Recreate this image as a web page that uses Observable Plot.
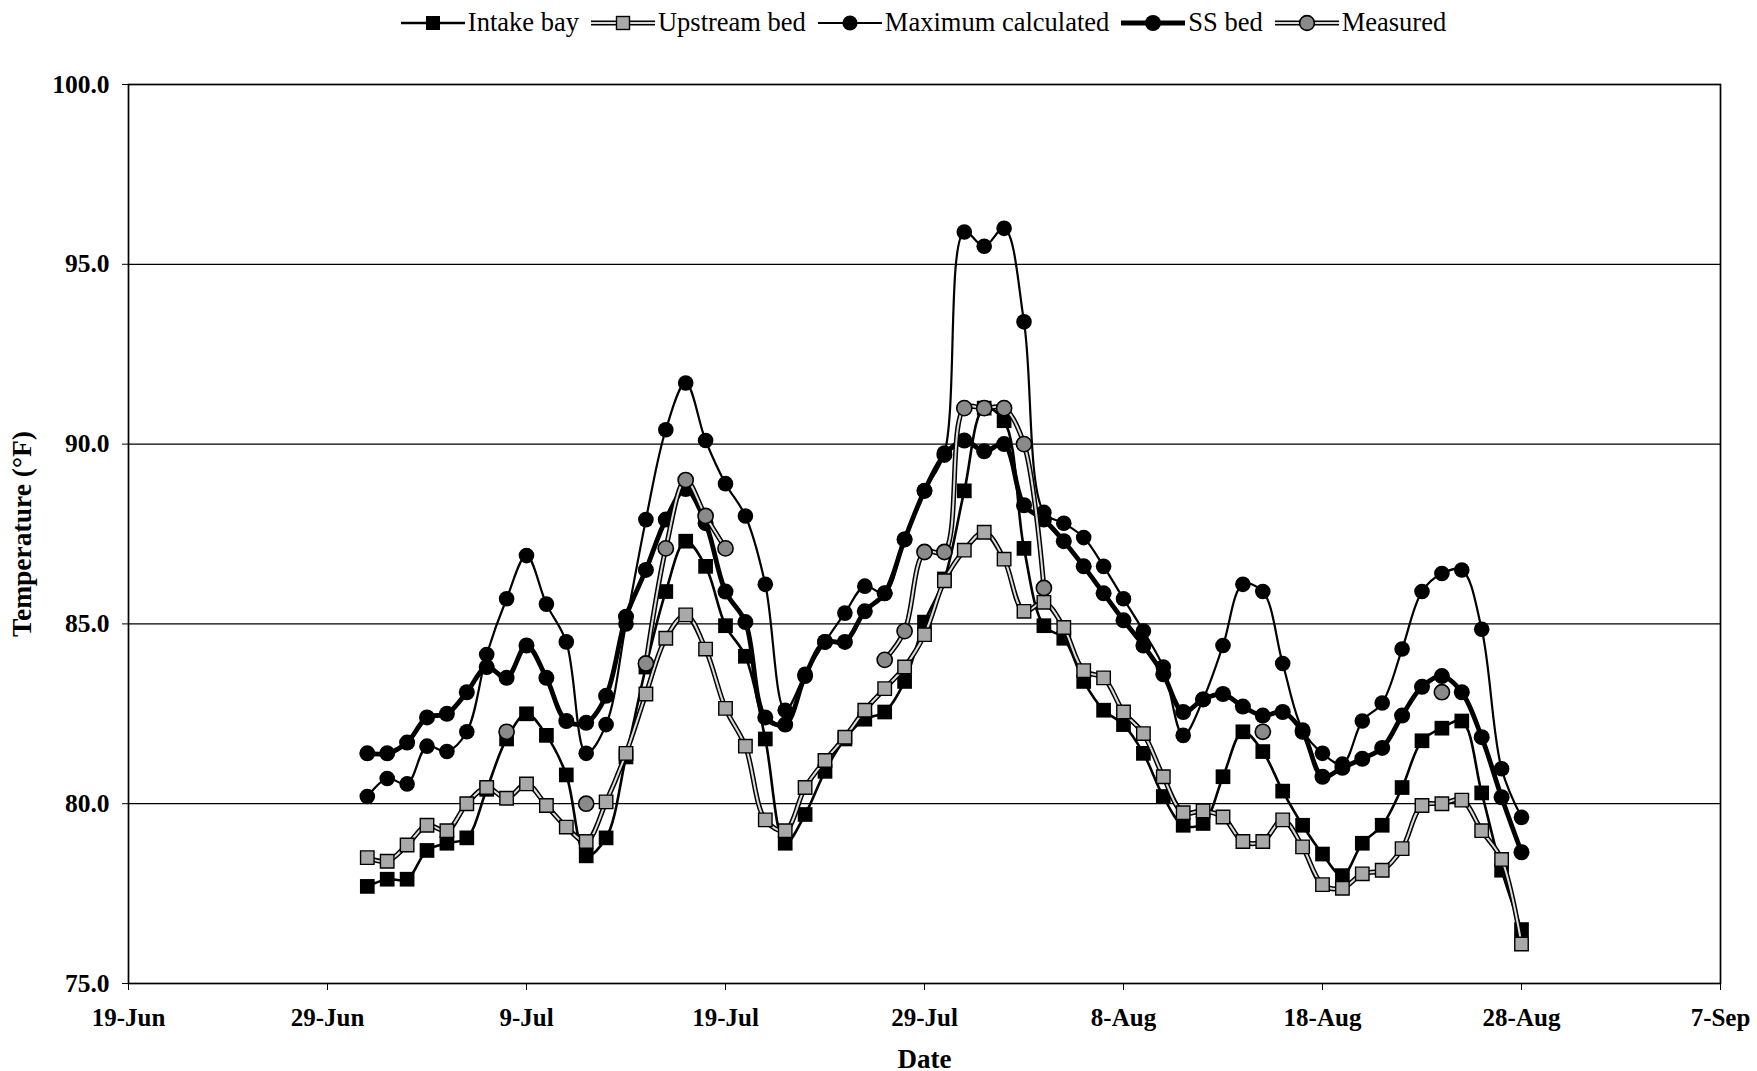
<!DOCTYPE html>
<html><head><meta charset="utf-8">
<script src="https://cdn.jsdelivr.net/npm/d3@7"></script>
<script src="https://cdn.jsdelivr.net/npm/@observablehq/plot@0.6"></script>
<style>
body{margin:0;background:#fff;font-family:"Liberation Serif","Times New Roman",serif;color:#000;}
#legend{height:45px;width:1757px;display:flex;align-items:center;justify-content:center;padding-left:90px;box-sizing:border-box;font-size:26.5px;}
.item{display:flex;align-items:center;margin:0 6px;white-space:nowrap;}
.item svg{margin-right:3px;}
</style></head><body>
<div id="legend"></div>
<div id="chart"></div>
<script>
// x categories: one reading per day, 1-Jul to 28-Aug
const firstDay = "2000-07-01", lastDayExclusive = "2000-08-29";
const xTickLabels = ["2000-06-19","2000-06-29","2000-07-09","2000-07-19","2000-07-29","2000-08-08","2000-08-18","2000-08-28","2000-09-07"];
const yTicks = [75, 80, 85, 90, 95, 100];
const gridValues = [80, 85, 90, 95];
const seriesNames = ["Intake bay", "Upstream bed", "Maximum calculated", "SS bed", "Measured"];
const yTitle = "Temperature (°F)", xTitle = "Date";

const intakeBay = [77.7, 77.9, 77.9, 78.7, 78.9, 79.05, 80.4, 81.8, 82.5, 81.9,
  80.8, 78.55, 79.05, 81.3, 83.8, 85.9, 87.3, 86.6, 84.95, 84.1,
  81.8, 78.9, 79.7, 80.9, 81.8, 82.35, 82.55, 83.4, 85.05, 86.25,
  88.7, 91.0, 90.65, 87.1, 84.95, 84.6, 83.4, 82.6, 82.2, 81.4,
  80.2, 79.4, 79.45, 80.75, 82.0, 81.45, 80.35, 79.4, 78.6, 78.0,
  78.9, 79.4, 80.45, 81.75, 82.1, 82.3, 80.3, 78.15, 76.5];
const upstreamBed = [78.5, 78.4, 78.85, 79.4, 79.25, 80.0, 80.45, 80.15, 80.55, 79.95,
  79.35, 78.95, 80.05, 81.4, 83.05, 84.6, 85.25, 84.3, 82.65, 81.6,
  79.55, 79.25, 80.45, 81.2, 81.85, 82.6, 83.2, 83.8, 84.7, 86.2,
  87.05, 87.55, 86.8, 85.35, 85.6, 84.9, 83.7, 83.5, 82.55, 81.95,
  80.75, 79.75, 79.8, 79.63, 78.95, 78.95, 79.55, 78.8, 77.75, 77.65,
  78.05, 78.15, 78.75, 79.95, 80.0, 80.1, 79.25, 78.45, 76.1];
const maxCalculated = [80.2, 80.7, 80.55, 81.6, 81.45, 82.0, 84.15, 85.7, 86.9, 85.55,
  84.5, 81.4, 82.2, 85.0, 87.9, 90.4, 91.7, 90.1, 88.9, 88.0,
  86.1, 82.6, 83.6, 84.5, 85.3, 86.05, 85.85, 87.35, 88.7, 89.75,
  95.9, 95.5, 96.0, 93.4, 88.1, 87.8, 87.4, 86.6, 85.7, 84.8,
  83.8, 81.9, 82.9, 84.4, 86.1, 85.9, 83.9, 82.05, 81.4, 81.1,
  82.3, 82.8, 84.3, 85.9, 86.4, 86.5, 84.85, 80.97, 79.62];
const ssBed = [81.4, 81.4, 81.7, 82.4, 82.5, 83.1, 83.8, 83.5, 84.4, 83.5,
  82.3, 82.25, 83.0, 85.2, 86.5, 87.9, 88.75, 87.8, 85.9, 85.05,
  82.4, 82.2, 83.55, 84.5, 84.5, 85.35, 85.85, 87.35, 88.7, 89.7,
  90.1, 89.8, 90.0, 88.3, 87.9, 87.3, 86.6, 85.85, 85.1, 84.4,
  83.6, 82.55, 82.9, 83.05, 82.7, 82.45, 82.55, 82.0, 80.75, 81.0,
  81.25, 81.55, 82.45, 83.25, 83.55, 83.1, 81.85, 80.18, 78.65];
const measured = [null, null, null, null, null, null, null, 82.0, null, null,
  null, 80.0, null, null, 83.9, 87.1, 89.0, 88.0, 87.1, null,
  null, null, null, null, null, null, 84.0, 84.8, 87.0, 87.0,
  91.0, 91.0, 91.0, 90.0, 86.0, null, null, null, null, null,
  null, null, null, null, null, 82.0, null, null, null, null,
  null, null, null, null, 83.1, null, null, null, null];

const dates = d3.utcDays(new Date(firstDay), new Date(lastDayExclusive));
const toRows = arr => arr.map((v, i) => ({date: dates[i], value: v}));
const rIntake = toRows(intakeBay), rUp = toRows(upstreamBed), rMax = toRows(maxCalculated),
      rSS = toRows(ssBed), rMeas = toRows(measured);
const defined = rows => rows.filter(d => d.value != null);

const xy = {x: "date", y: "value"};
const curve = "catmull-rom";
const font = "Liberation Serif, Times New Roman, serif";

const chart = Plot.plot({
  width: 1757, height: 1026,
  marginTop: 39, marginBottom: 88, marginLeft: 128, marginRight: 37,
  style: {fontFamily: font, background: "#fff", color: "#000", overflow: "visible"},
  x: {type: "utc", domain: [new Date(xTickLabels[0]), new Date(xTickLabels[xTickLabels.length - 1])]},
  y: {domain: [75, 100]},
  marks: [
    Plot.ruleY(gridValues, {stroke: "#000", strokeWidth: 1.3}),
    Plot.frame({stroke: "#000", strokeWidth: 1.7}),
    Plot.axisY({ticks: yTicks, tickFormat: d3.format(".1f"), tickSize: 6, tickPadding: 13,
      fontSize: 25.5, fontWeight: "bold", label: null}),
    Plot.axisX({ticks: xTickLabels.map(d => new Date(d)), tickFormat: d3.utcFormat("%-d-%b"),
      tickSize: 7, tickPadding: 18, fontSize: 25, fontWeight: "bold", label: null}),
    Plot.text([yTitle], {frameAnchor: "left", text: d => d, rotate: -90, dx: -106,
      textAnchor: "middle", lineAnchor: "middle", fontSize: 27.5, fontWeight: "bold", fill: "#000"}),
    Plot.text([xTitle], {frameAnchor: "bottom", text: d => d, dy: 76,
      textAnchor: "middle", lineAnchor: "middle", fontSize: 27, fontWeight: "bold", fill: "#000"}),
    // Intake bay
    Plot.line(rIntake, {...xy, stroke: "#000", strokeWidth: 2.6, curve}),
    Plot.dot(defined(rIntake), {...xy, symbol: "square", r: 8.3, fill: "#000", stroke: "none"}),
    // Upstream bed (double line)
    Plot.line(rUp, {...xy, stroke: "#000", strokeWidth: 5, curve}),
    Plot.line(rUp, {...xy, stroke: "#dcdcdc", strokeWidth: 2, curve}),
    Plot.dot(defined(rUp), {...xy, symbol: "square", r: 7.6, fill: "#a9a9a9", stroke: "#000", strokeWidth: 1.4}),
    // Maximum calculated
    Plot.line(rMax, {...xy, stroke: "#000", strokeWidth: 2.2, curve}),
    Plot.dot(defined(rMax), {...xy, r: 7.8, fill: "#000", stroke: "none"}),
    // SS bed
    Plot.line(rSS, {...xy, stroke: "#000", strokeWidth: 4.8, curve}),
    Plot.dot(defined(rSS), {...xy, r: 8.0, fill: "#000", stroke: "none"}),
    // Measured (double line)
    Plot.line(rMeas, {...xy, stroke: "#000", strokeWidth: 5, curve}),
    Plot.line(rMeas, {...xy, stroke: "#dcdcdc", strokeWidth: 2, curve}),
    Plot.dot(defined(rMeas), {...xy, r: 7.6, fill: "#8a8a8a", stroke: "#000", strokeWidth: 1.6})
  ]
});
document.getElementById("chart").appendChild(chart);

// Legend
const swatches = {
  "Intake bay": `<line x1="0" x2="64" y1="12" y2="12" stroke="#000" stroke-width="2.6"/><rect x="25" y="5" width="14" height="14" fill="#000"/>`,
  "Upstream bed": `<line x1="0" x2="64" y1="12" y2="12" stroke="#000" stroke-width="5"/><line x1="0" x2="64" y1="12" y2="12" stroke="#dcdcdc" stroke-width="2"/><rect x="25.5" y="5.5" width="13" height="13" fill="#a9a9a9" stroke="#000" stroke-width="1.4"/>`,
  "Maximum calculated": `<line x1="0" x2="64" y1="12" y2="12" stroke="#000" stroke-width="2.2"/><circle cx="32" cy="12" r="7.6" fill="#000"/>`,
  "SS bed": `<line x1="0" x2="64" y1="12" y2="12" stroke="#000" stroke-width="5"/><circle cx="32" cy="12" r="8" fill="#000"/>`,
  "Measured": `<line x1="0" x2="64" y1="12" y2="12" stroke="#000" stroke-width="5"/><line x1="0" x2="64" y1="12" y2="12" stroke="#dcdcdc" stroke-width="2"/><circle cx="32" cy="12" r="7.4" fill="#8a8a8a" stroke="#000" stroke-width="1.6"/>`
};
const legend = document.getElementById("legend");
seriesNames.forEach(name => {
  const item = document.createElement("div");
  item.className = "item";
  item.innerHTML = `<svg width="64" height="24">${swatches[name]}</svg><span>${name}</span>`;
  legend.appendChild(item);
});
</script>
</body></html>
